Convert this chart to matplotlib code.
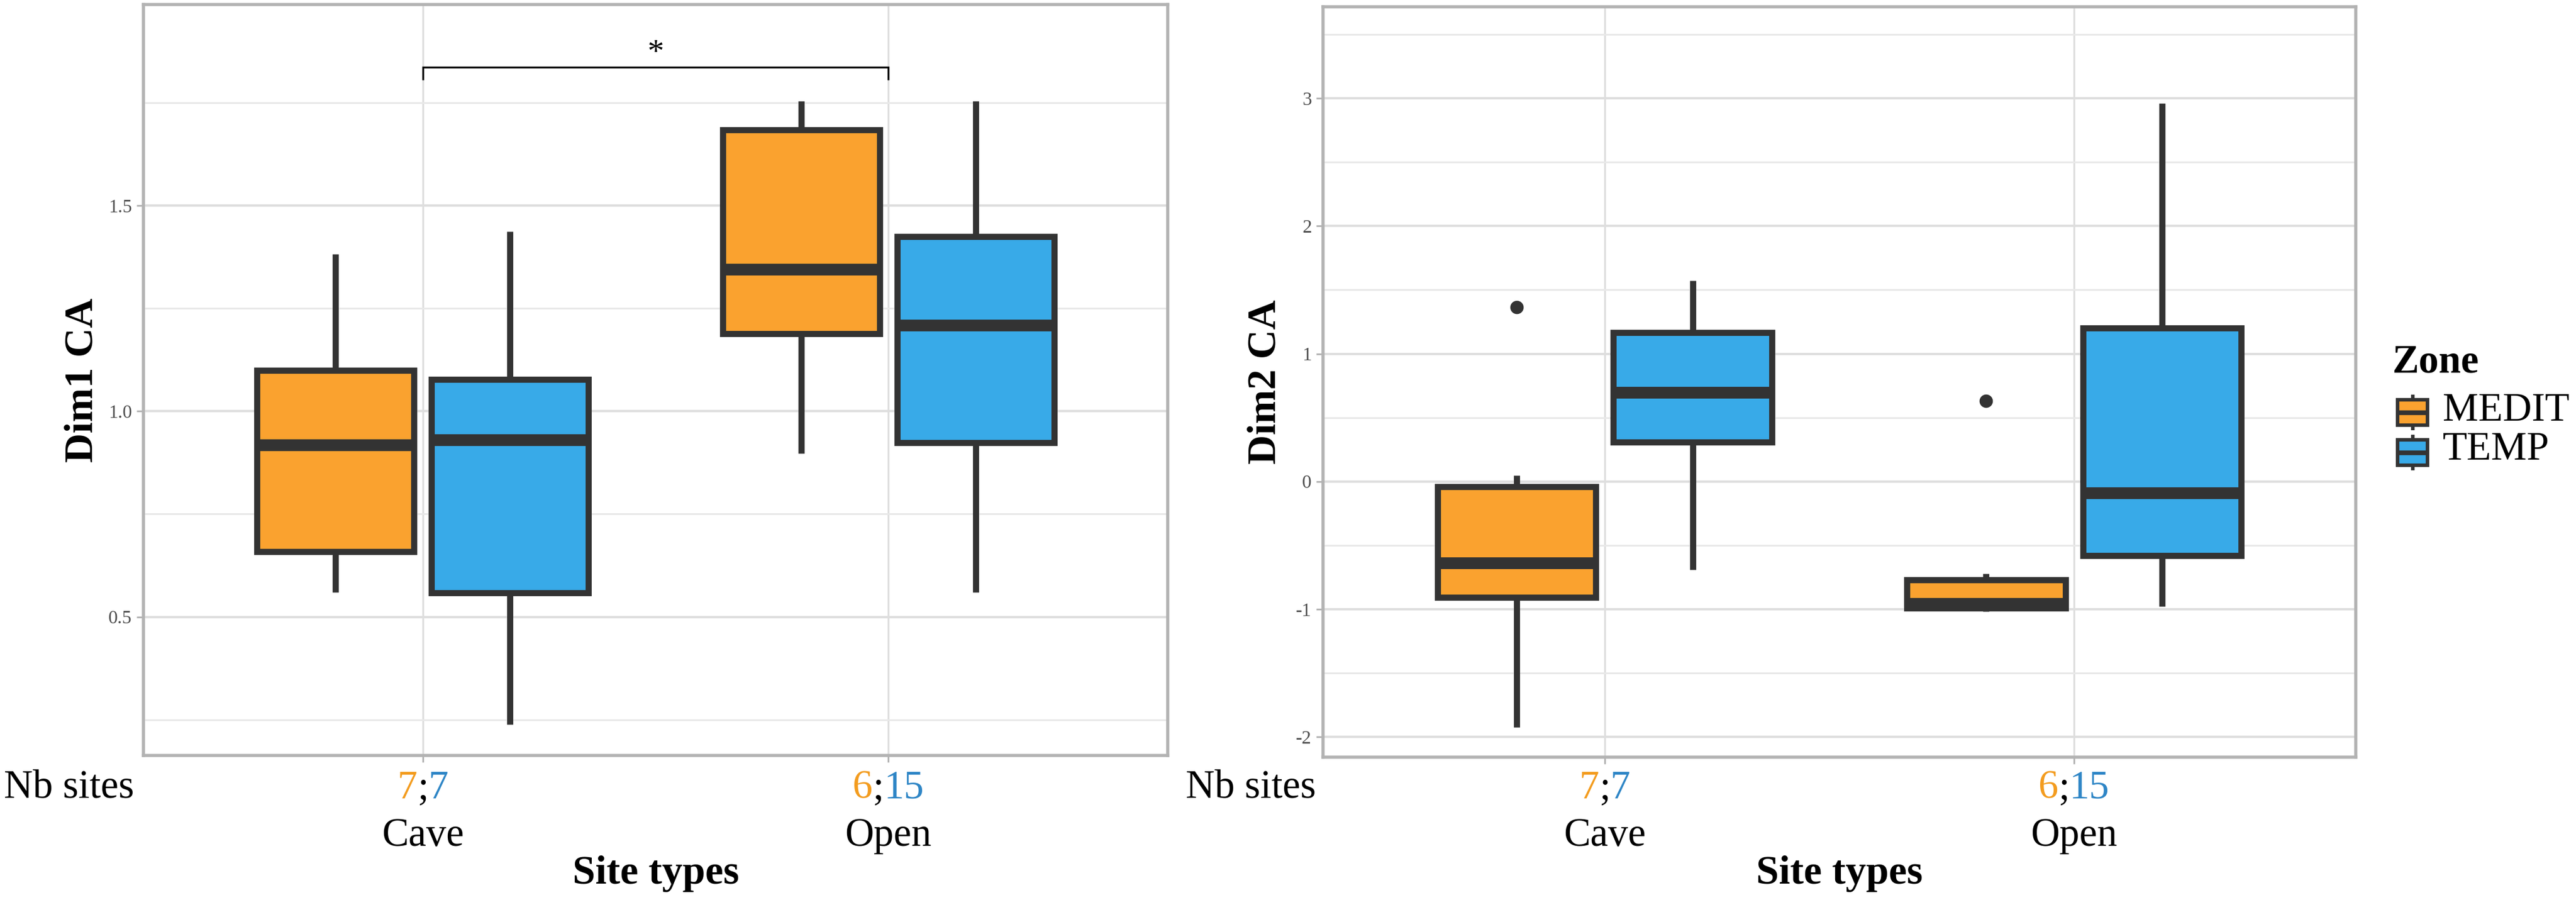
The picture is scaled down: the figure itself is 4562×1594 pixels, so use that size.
import matplotlib
matplotlib.use('Agg')
import matplotlib.pyplot as plt
from matplotlib.transforms import blended_transform_factory, offset_copy
from matplotlib.patches import Rectangle

plt.rcParams['font.family'] = ['Liberation Serif', 'DejaVu Serif']

# ---------------- data ----------------
site_types = ['Cave', 'Open']
zones = ['MEDIT', 'TEMP']
n_sites_medit = [7, 6]
n_sites_temp = [7, 15]

# five-number summaries per site type: [whislo, q1, med, q3, whishi]
dim1_medit = [[0.560, 0.659, 0.918, 1.099, 1.382], [0.898, 1.188, 1.345, 1.684, 1.754]]
dim1_temp = [[0.238, 0.559, 0.930, 1.078, 1.437], [0.560, 0.924, 1.209, 1.425, 1.754]]
dim1_medit_out = [[], []]
dim1_temp_out = [[], []]

dim2_medit = [[-1.924, -0.907, -0.637, -0.040, 0.049], [-1.020, -0.990, -0.956, -0.770, -0.720]]
dim2_temp = [[-0.690, 0.306, 0.695, 1.164, 1.571], [-0.980, -0.580, -0.088, 1.203, 2.960]]
dim2_medit_out = [[1.363], [0.633]]
dim2_temp_out = [[], []]

dim1_ticks = [0.5, 1.0, 1.5]
dim1_minor = [0.25, 0.75, 1.25, 1.75]
dim2_ticks = [-2, -1, 0, 1, 2, 3]
dim2_minor = [-1.5, -0.5, 0.5, 1.5, 2.5, 3.5]

# ---------------- style ----------------
W, H = 4562, 1594
DPI = 100
C_MEDIT = '#FAA22F'
C_TEMP = '#38AAE8'
T_MEDIT = '#F39C1F'
T_TEMP = '#2F86C6'
EDGE = '#333333'
BORDER = '#B3B3B3'
GRID = '#DEDEDE'
GRID_MINOR = '#E8E8E8'

fig = plt.figure(figsize=(W / DPI, H / DPI), dpi=DPI)


def px_axes(x0, y0, x1, y1):
    return fig.add_axes([x0 / W, 1 - y1 / H, (x1 - x0) / W, (y1 - y0) / H])


def stats_of(summ, outs):
    res = []
    for s, o in zip(summ, outs):
        res.append(dict(whislo=s[0], q1=s[1], med=s[2], q3=s[3], whishi=s[4], fliers=o))
    return res


def draw_panel(ax, medit, temp, medit_out, temp_out, ylim, majors, minors, fmt):
    xs = list(range(1, len(site_types) + 1))
    off = 0.1875
    for summ, outs, col, sign in [(medit, medit_out, C_MEDIT, -1), (temp, temp_out, C_TEMP, 1)]:
        ax.bxp(stats_of(summ, outs), positions=[x + sign * off for x in xs], widths=0.3375,
               patch_artist=True, showcaps=False, manage_ticks=False,
               boxprops=dict(facecolor=col, edgecolor=EDGE, linewidth=7.8),
               medianprops=dict(color=EDGE, linewidth=15, solid_capstyle='butt'),
               whiskerprops=dict(color=EDGE, linewidth=7.8, solid_capstyle='butt'),
               flierprops=dict(marker='o', markerfacecolor=EDGE, markeredgecolor=EDGE,
                               markersize=16),
               zorder=3)
    ax.set_xlim(0.4, len(site_types) + 0.6)
    ax.set_ylim(*ylim)
    ax.set_xticks(xs)
    ax.set_xticklabels([''] * len(xs))
    ax.set_yticks(majors)
    ax.set_yticklabels([fmt % v for v in majors])
    ax.set_yticks(minors, minor=True)
    ax.grid(which='major', axis='y', color=GRID, lw=3, zorder=0)
    ax.grid(which='minor', axis='y', color=GRID_MINOR, lw=2.2, zorder=0)
    ax.grid(which='major', axis='x', color=GRID, lw=2.4, zorder=0)
    ax.set_axisbelow(True)
    for sp in ax.spines.values():
        sp.set_color(BORDER)
        sp.set_linewidth(4)
    ax.tick_params(which='major', length=8.5, width=2.2, color=BORDER, labelsize=24,
                   labelcolor='#4D4D4D', pad=6)
    ax.tick_params(which='minor', length=0)


ax1 = px_axes(254, 8, 2068, 1338)
draw_panel(ax1, dim1_medit, dim1_temp, dim1_medit_out, dim1_temp_out,
           (0.163, 1.989), dim1_ticks, dim1_minor, '%.1f')
ax2 = px_axes(2343, 12, 4172, 1341)
draw_panel(ax2, dim2_medit, dim2_temp, dim2_medit_out, dim2_temp_out,
           (-2.159, 3.717), dim2_ticks, dim2_minor, '%d')

# significance bracket
ax1.plot([1, 1, 2, 2], [1.808, 1.837, 1.837, 1.808], color='black', lw=2.4,
         solid_joinstyle='miter', zorder=4)
ax1.text(1.5, 1.850, '*', ha='center', va='baseline', fontsize=42, color='black')

# ---------------- x labels ----------------
renderer = fig.canvas.get_renderer()
FS = 51


def colored_label(ax, x, yfig, parts):
    trans = blended_transform_factory(ax.transData, fig.transFigure)
    objs = [fig.text(0, 0, t, color=c, fontsize=FS) for t, c in parts]
    widths = [o.get_window_extent(renderer).width for o in objs]
    for o in objs:
        o.remove()
    total = sum(widths)
    cur = -total / 2
    for (t, c), w in zip(parts, widths):
        tr = offset_copy(trans, fig=fig, x=cur, y=0, units='dots')
        fig.text(x, yfig, t, color=c, fontsize=FS, ha='left', va='baseline', transform=tr)
        cur += w


y_num = (H - 1414) / H
y_cat = (H - 1498) / H
y_title = (H - 1565) / H
for ax, nb_px in [(ax1, 7), (ax2, 2100)]:
    for i, st in enumerate(site_types):
        colored_label(ax, i + 1, y_num, [(str(n_sites_medit[i]), T_MEDIT), (';', 'black'),
                                         (str(n_sites_temp[i]), T_TEMP)])
        tr = blended_transform_factory(ax.transData, fig.transFigure)
        fig.text(i + 1, y_cat, st, fontsize=FS, ha='center', va='baseline', transform=tr)
    tr = blended_transform_factory(ax.transAxes, fig.transFigure)
    fig.text(0.5, y_title, 'Site types', fontsize=52, fontweight='bold', ha='center',
             va='baseline', transform=tr)
    fig.text(nb_px / W, y_num, 'Nb sites', fontsize=FS, ha='left', va='baseline')

# y titles
fig.text(146 / W, 1 - 673 / H, 'Dim1 CA', rotation=90, fontsize=52, fontweight='bold',
         ha='center', va='center')
fig.text(2241 / W, 1 - 676 / H, 'Dim2 CA', rotation=90, fontsize=52, fontweight='bold',
         ha='center', va='center')

# ---------------- legend ----------------
lx0, ly0, lx1, ly1 = 4200, 560, 4562, 880
lax = px_axes(lx0, ly0, lx1, ly1)
lax.set_xlim(lx0, lx1)
lax.set_ylim(ly1, ly0)
lax.axis('off')
lax.text(4237, 660, 'Zone', fontsize=FS, fontweight='bold', ha='left', va='baseline')
for lab, col, top, yb in [(zones[0], C_MEDIT, 708, 745), (zones[1], C_TEMP, 779, 814)]:
    h = 45
    lax.plot([4272.5, 4272.5], [top - 9, top + h + 9], color=EDGE, lw=4.5,
             solid_capstyle='butt', zorder=1)
    lax.add_patch(Rectangle((4246, top), 53, h, facecolor=col, edgecolor=EDGE, lw=4.5,
                            zorder=2))
    lax.plot([4246, 4299], [top + h / 2, top + h / 2], color=EDGE, lw=6,
             solid_capstyle='butt', zorder=3)
    lax.text(4326, yb, lab, fontsize=FS, ha='left', va='baseline')

fig.savefig('out.png', dpi=DPI)
